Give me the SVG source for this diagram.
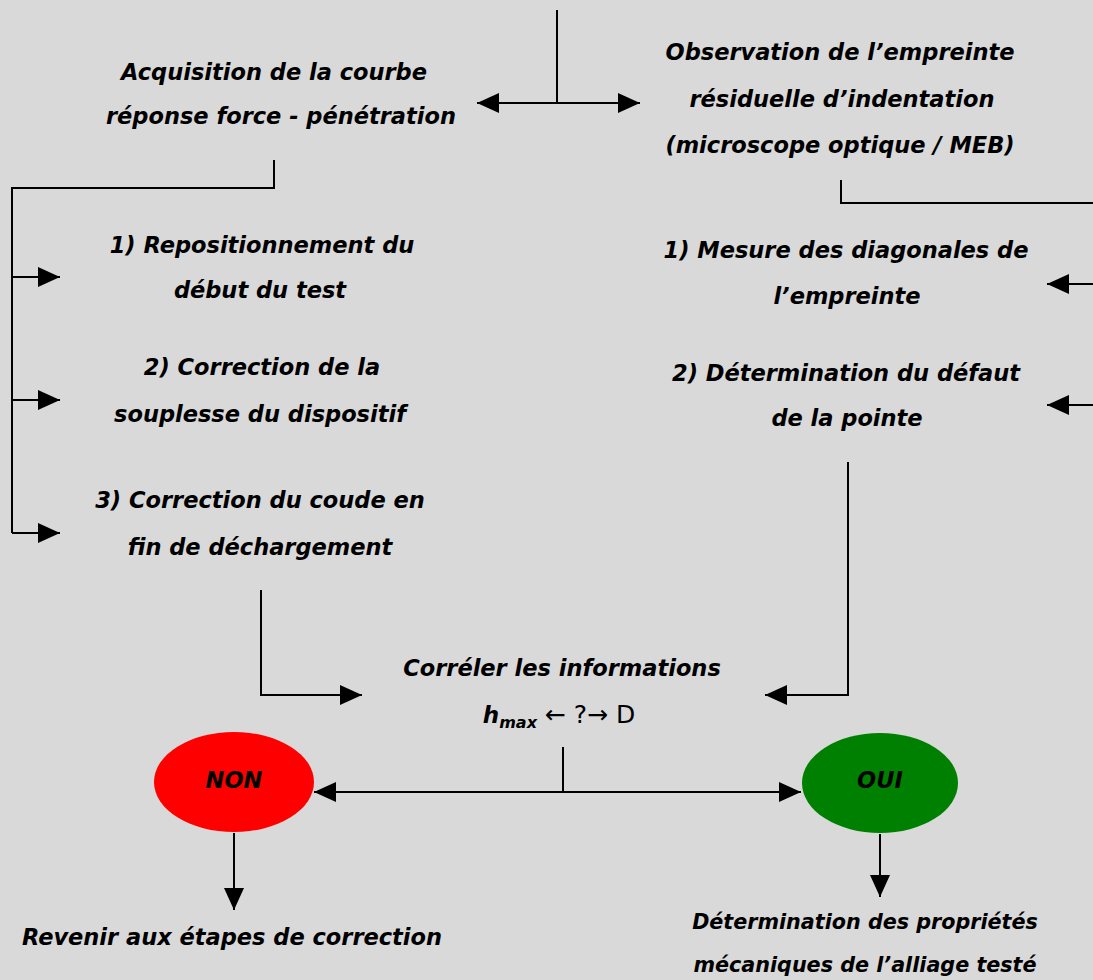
<svg xmlns="http://www.w3.org/2000/svg" width="1093" height="980" viewBox="0 0 1093 980">
<defs>
<marker id="ah" markerWidth="22" markerHeight="20" refX="22" refY="10" orient="auto-start-reverse" markerUnits="userSpaceOnUse">
<path d="M0,0 L22,10 L0,20 Z" fill="#000"/>
</marker>
<style>
.t{font-family:"DejaVu Sans",Verdana,sans-serif;font-weight:bold;font-style:italic;font-size:22.5px;fill:#000;text-anchor:middle}
.c{fill:none;stroke:#000;stroke-width:2}
</style>
</defs>
<rect width="1093" height="980" fill="#d9d9d9"/>
<g id="connectors">
<path class="c" d="M557,10 V103"/>
<path class="c" d="M477,103 H640" marker-start="url(#ah)" marker-end="url(#ah)"/>
<path class="c" d="M274,160 V188 H12 V533"/>
<path class="c" d="M12,277 H60" marker-end="url(#ah)"/>
<path class="c" d="M12,400 H60" marker-end="url(#ah)"/>
<path class="c" d="M12,533 H60" marker-end="url(#ah)"/>
<path class="c" d="M841,180 V203 H1093"/>
<path class="c" d="M1093,284 H1047" marker-end="url(#ah)"/>
<path class="c" d="M1093,405 H1047" marker-end="url(#ah)"/>
<path class="c" d="M261,590 V695 H362" marker-end="url(#ah)"/>
<path class="c" d="M848,462 V695 H765" marker-end="url(#ah)"/>
<path class="c" d="M563,747 V792"/>
<path class="c" d="M314,792 H801" marker-start="url(#ah)" marker-end="url(#ah)"/>
<path class="c" d="M234,833 V910" marker-end="url(#ah)"/>
<path class="c" d="M880,834 V897" marker-end="url(#ah)"/>
</g>
<g id="acquisition">
<text class="t" x="274" y="80">Acquisition de la courbe</text>
<text class="t" x="281" y="124">réponse force - pénétration</text>
</g>
<g id="observation">
<text class="t" x="840" y="60">Observation de l’empreinte</text>
<text class="t" x="842" y="107">résiduelle d’indentation</text>
<text class="t" x="840" y="153">(microscope optique / MEB)</text>
</g>
<g id="repositionnement">
<text class="t" x="262" y="253">1) Repositionnement du</text>
<text class="t" x="260" y="298">début du test</text>
</g>
<g id="souplesse">
<text class="t" x="262" y="375">2) Correction de la</text>
<text class="t" x="260" y="422">souplesse du dispositif</text>
</g>
<g id="coude">
<text class="t" x="260" y="508">3) Correction du coude en</text>
<text class="t" x="260" y="555">fin de déchargement</text>
</g>
<g id="mesure">
<text class="t" x="846" y="258">1) Mesure des diagonales de</text>
<text class="t" x="847" y="304">l’empreinte</text>
</g>
<g id="defaut">
<text class="t" x="846" y="381">2) Détermination du défaut</text>
<text class="t" x="847" y="426">de la pointe</text>
</g>
<g id="correler">
<text class="t" x="562" y="676">Corréler les informations</text>
<text x="559" y="723" font-family="DejaVu Sans, sans-serif" font-size="23" text-anchor="middle" fill="#000"><tspan font-weight="bold" font-style="italic">h</tspan><tspan font-weight="bold" font-style="italic" font-size="16" dy="5">max</tspan><tspan dy="-5" font-size="25"> ← ?→ D</tspan></text>
</g>
<g id="non">
<ellipse cx="234" cy="782" rx="80" ry="50" fill="#ff0000"/>
<text class="t" x="234" y="788">NON</text>
</g>
<g id="oui">
<ellipse cx="880" cy="783" rx="78" ry="50" fill="#008000"/>
<text class="t" x="880" y="788">OUI</text>
</g>
<g id="revenir">
<text class="t" x="232" y="945">Revenir aux étapes de correction</text>
</g>
<g id="proprietes">
<text class="t" x="865" y="929" style="font-size:20.7px">Détermination des propriétés</text>
<text class="t" x="865" y="972" style="font-size:20.7px">mécaniques de l’alliage testé</text>
</g>
</svg>
